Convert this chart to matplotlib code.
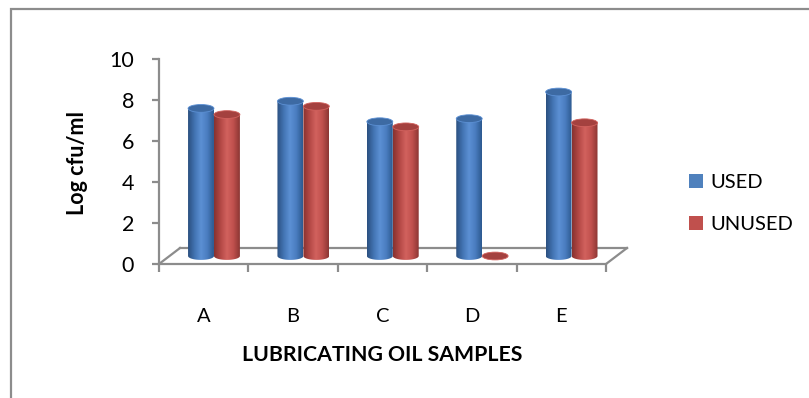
import matplotlib.pyplot as plt
import numpy as np
from matplotlib.colors import LinearSegmentedColormap
from matplotlib.patches import Ellipse, Polygon, Patch, Rectangle

plt.rcParams['font.family'] = ['Lato', 'DejaVu Sans']

# Log counts per sample
samples = ["A", "B", "C", "D", "E"]
used = [7.2, 7.55, 6.55, 6.7, 8.0]
unused = [6.9, 7.3, 6.3, 0.0, 6.5]

series = [
    ("USED", used, "#4f81bd", ["#2b5080", "#4273b2", "#5c90d4", "#4a7dc0", "#2d5a90"], "#3d6aa3"),
    ("UNUSED", unused, "#c0504d", ["#873230", "#b34845", "#d2625e", "#c0504d", "#8c3634"], "#a4413f"),
]

fig = plt.figure(figsize=(8.09, 3.98), dpi=100)
W, H = 809, 398
ax = fig.add_axes([159 / W, 134 / H, 5.25 * 89.4 / W, 10.3 * 20.5 / H])
ax.set_xlim(-0.5, 4.75)
ax.set_ylim(0, 10.3)

grey = "#8c8c8c"
depth_x, depth_y = 0.235, 0.78   # floor depth in data units
base = 0.39                      # bars stand at mid depth
width = 0.29
ell_h = 0.38

# floor outline
ax.plot([-0.5, -0.5 + depth_x], [0, depth_y], color=grey, lw=1.6, zorder=1, clip_on=False)
ax.plot([4.5, 4.5 + depth_x], [0, depth_y], color=grey, lw=1.6, zorder=1, clip_on=False)
ax.plot([-0.5 + depth_x, 4.5 + depth_x], [depth_y, depth_y], color=grey, lw=1.6, zorder=1, clip_on=False)

x = np.arange(len(samples))
grad = np.linspace(0, 1, 64).reshape(1, -1)
t = np.linspace(np.pi, 2 * np.pi, 30)

for k, (name, vals, col, shades, topcol) in enumerate(series):
    cmap = LinearSegmentedColormap.from_list(name, shades)
    offs = 0.115 + (k - 0.5) * width
    for xi, v in zip(x, vals):
        cx = xi + offs
        x0, x1 = cx - width / 2, cx + width / 2
        top = base + v
        if v > 0:
            pts = [(cx + width / 2 * np.cos(a), base + ell_h / 2 * np.sin(a)) for a in t]
            pts += [(x1, top), (x0, top)]
            body = Polygon(pts, closed=True, facecolor="none", edgecolor="none")
            ax.add_patch(body)
            im = ax.imshow(grad, cmap=cmap, aspect="auto", zorder=3,
                           extent=[x0, x1, base - ell_h / 2, top], interpolation="bilinear")
            im.set_clip_path(body)
        ax.add_patch(Ellipse((cx, top), width, ell_h, facecolor=topcol,
                             edgecolor=shades[2], lw=0.6, zorder=4))

# axes
for s in ["top", "right"]:
    ax.spines[s].set_visible(False)
for s in ["left", "bottom"]:
    ax.spines[s].set_color(grey)
    ax.spines[s].set_linewidth(1.6)
ax.spines["left"].set_bounds(0, 10)
ax.spines["bottom"].set_bounds(-0.5, 4.5)

ax.set_yticks(np.arange(0, 11, 2))
ax.tick_params(axis="y", length=5, width=1.6, color=grey, pad=13, labelsize=15.5)
ax.set_xticks(x)
ax.set_xticklabels(samples)
ax.set_xticks(np.arange(-0.5, 5, 1), minor=True)
ax.tick_params(axis="x", which="major", length=0, pad=32, labelsize=14.5)
ax.tick_params(axis="x", which="minor", length=6, width=1.6, color=grey)

fig.text(382 / W, 1 - 355 / H, "LUBRICATING OIL SAMPLES", ha="center", va="center",
         fontsize=15.3, fontweight="bold")
fig.text(78 / W, 1 - 163 / H, "Log cfu/ml", ha="center", va="center", rotation=90,
         fontsize=15.5, fontweight="bold")

handles = [Patch(facecolor=s[2], edgecolor="none") for s in series]
fig.legend(handles, [s[0] for s in series], loc="upper left", frameon=False,
           bbox_to_anchor=(689 / W, 1 - 174 / H), borderaxespad=0, borderpad=0,
           handlelength=0.7, handleheight=0.7, handletextpad=0.35,
           labelspacing=1.25, fontsize=14.5)

# chart border
fig.patches.append(Rectangle((11 / W, -0.2), 1.2, 1.2 - 9 / H, transform=fig.transFigure,
                             facecolor="none", edgecolor=grey, lw=1.6, figure=fig))

fig.savefig("out.png", dpi=100)
